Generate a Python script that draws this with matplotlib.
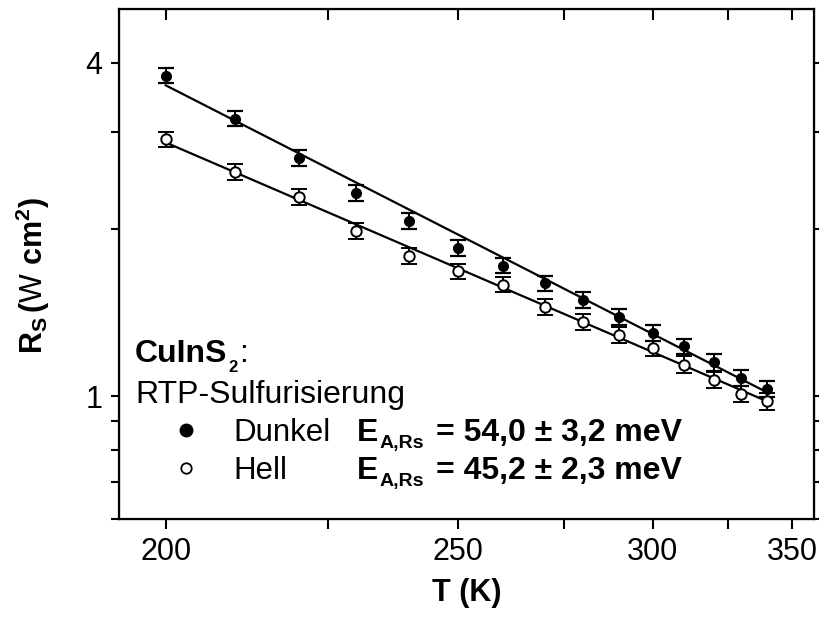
import numpy as np
import matplotlib
matplotlib.use("Agg")
import matplotlib.pyplot as plt
import matplotlib.transforms as mtransforms
from matplotlib.ticker import NullFormatter

plt.rcParams["font.family"] = ["Liberation Sans", "DejaVu Sans"]
plt.rcParams["mathtext.fontset"] = "custom"
plt.rcParams["mathtext.rm"] = "Liberation Sans"
plt.rcParams["mathtext.bf"] = "Liberation Sans:bold"
plt.rcParams["mathtext.it"] = "Liberation Sans:italic"

# ---------------------------
# Data
# ---------------------------
temps = [200, 210, 220, 230, 240, 250, 260, 270, 280, 290, 300, 310, 320, 330, 340]

rs_dark = [3.79, 3.17, 2.69, 2.33, 2.07, 1.85, 1.72, 1.60, 1.49, 1.39, 1.30, 1.23, 1.15, 1.08, 1.03]
err_dark = [0.12, 0.10, 0.09, 0.08, 0.07, 0.06, 0.055, 0.05, 0.05, 0.045, 0.045, 0.04, 0.04, 0.035, 0.035]

rs_light = [2.91, 2.54, 2.29, 1.99, 1.79, 1.68, 1.59, 1.45, 1.36, 1.29, 1.22, 1.14, 1.07, 1.01, 0.98]
err_light = [0.09, 0.08, 0.075, 0.065, 0.06, 0.055, 0.05, 0.05, 0.045, 0.045, 0.04, 0.04, 0.035, 0.035, 0.035]

# Arrhenius fit lines (end points)
fit_T = [200, 340]
fit_dark = [3.64, 1.015]
fit_light = [2.87, 0.978]

x_major = [200, 250, 300, 350]
x_minor = [225, 275, 325]
y_major = [1, 4]
y_minor = [0.6, 0.7, 0.8, 0.9, 2, 3]
t_range = (193.8, 359.5)


def inv_t(t):
    # axis is linear in 1000/T, reversed, labelled in T
    return 1000.0 / np.asarray(t, dtype=float)


fig = plt.figure(figsize=(8.2, 6.19), dpi=100)
ax = fig.add_axes([0.1451, 0.1616, 0.8476, 0.8239])
ax.set_yscale("log")

ekw = dict(ecolor="black", elinewidth=1.4, capsize=5.5, capthick=1.6, linestyle="none")
ax.errorbar(inv_t(temps), rs_dark, yerr=err_dark, marker="o", ms=7, mfc="black",
            mec="black", **ekw)
ax.errorbar(inv_t(temps), rs_light, yerr=err_light, marker="o", ms=7.5, mfc="white",
            mec="black", mew=1.4, **ekw)

ax.plot(inv_t(fit_T), fit_dark, color="black", lw=1.6)
ax.plot(inv_t(fit_T), fit_light, color="black", lw=1.6)

xlim = tuple(inv_t(t_range))
ax.set_xlim(xlim)
ax.set_ylim(0.60, 5.0)

ax.set_xticks(inv_t(x_major))
ax.set_xticklabels([str(v) for v in x_major])
ax.set_xticks(inv_t(x_minor), minor=True)
ax.xaxis.set_minor_formatter(NullFormatter())

ax.set_yticks(y_major)
ax.set_yticklabels([str(v) for v in y_major])
ax.set_yticks(y_minor, minor=True)
ax.yaxis.set_minor_formatter(NullFormatter())

ax.tick_params(axis="both", which="both", direction="out", labelsize=22,
               width=1.5, length=7, pad=6)
ax.tick_params(axis="y", which="both", right=True, length=6)
for s in ax.spines.values():
    s.set_linewidth(1.6)

# top ticks pointing inwards
ax_top = ax.twiny()
ax_top.set_xlim(xlim)
ax_top.set_xticks(inv_t(x_major))
ax_top.set_xticks(inv_t(x_minor), minor=True)
ax_top.tick_params(axis="x", which="both", direction="in", width=1.5, length=8,
                   labeltop=False)
ax_top.xaxis.set_minor_formatter(NullFormatter())
ax_top.xaxis.set_major_formatter(NullFormatter())

ax.set_xlabel("T (K)", fontsize=22, fontweight="bold", labelpad=8)
ax.set_ylabel(r"$\mathbf{R}_\mathbf{S}\,\mathbf{(}\mathrm{W}\ \mathbf{cm}^\mathbf{2}\mathbf{)}$",
              fontsize=22)
ax.yaxis.set_label_coords(-0.097, 0.478)

# ---------------------------
# annotation block
# ---------------------------
renderer = fig.canvas.get_renderer()


def chain(x, y, pieces):
    # pieces: (text, size, weight, dy in px, gap after in px)
    off = 0.0
    for s, size, weight, dy, gap in pieces:
        tr = mtransforms.offset_copy(ax.transAxes, fig=fig, x=off, y=dy, units="dots")
        t = ax.text(x, y, s, transform=tr, fontsize=size, fontweight=weight,
                    va="baseline", ha="left")
        off += t.get_window_extent(renderer).width + gap


FS = 23
chain(0.023, 0.308, [("CuInS", FS, "bold", 0, 1), ("2", 12, "bold", -10, 2),
                     (":", FS, "normal", 0, 0)])
ax.text(0.023, 0.228, "RTP-Sulfurisierung", transform=ax.transAxes,
        fontsize=FS, va="baseline")
ax.plot([0.0964], [0.1745], transform=ax.transAxes, marker="o", ms=9,
        mfc="black", mec="black", ls="none")
ax.plot([0.0964], [0.100], transform=ax.transAxes, marker="o", ms=7.5,
        mfc="white", mec="black", mew=1.3, ls="none")
ax.text(0.164, 0.153, "Dunkel", transform=ax.transAxes, fontsize=22.5, va="baseline")
ax.text(0.164, 0.078, "Hell", transform=ax.transAxes, fontsize=22.5, va="baseline")
chain(0.342, 0.153, [("E", FS, "bold", 0, 1), ("A,Rs", 14, "bold", -7, 12),
                     ("= 54,0 ± 3,2 meV", FS, "bold", 0, 0)])
chain(0.342, 0.078, [("E", FS, "bold", 0, 1), ("A,Rs", 14, "bold", -7, 12),
                     ("= 45,2 ± 2,3 meV", FS, "bold", 0, 0)])

fig.savefig("out.png", dpi=100)
